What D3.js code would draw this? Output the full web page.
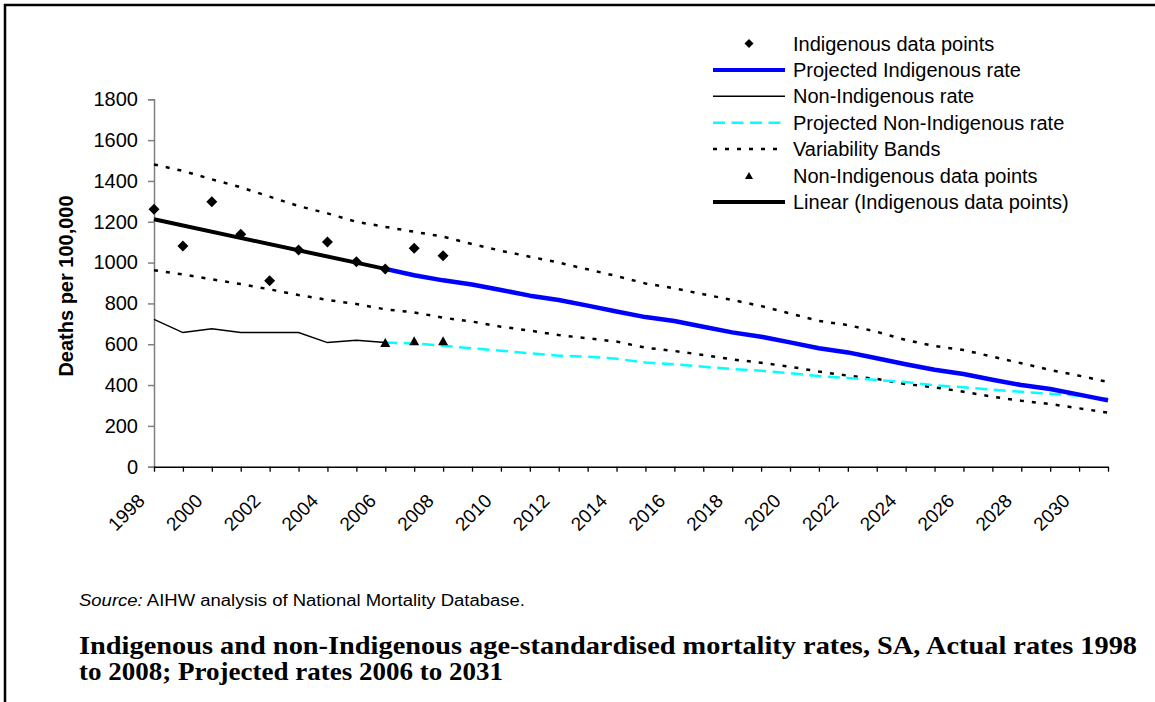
<!DOCTYPE html>
<html>
<head>
<meta charset="utf-8">
<script src="https://cdn.jsdelivr.net/npm/d3@7"></script>
<style>
  html, body { margin: 0; padding: 0; background: #fff; }
  svg { display: block; }
</style>
</head>
<body>
<svg id="chart" width="1155" height="702"></svg>
<script>
// ---- Data ----
const years = [1998,1999,2000,2001,2002,2003,2004,2005,2006,2007,2008,2009,2010,2011,2012,2013,2014,2015,2016,2017,2018,2019,2020,2021,2022,2023,2024,2025,2026,2027,2028,2029,2030,2031];
const xTickLabels = [1998,2000,2002,2004,2006,2008,2010,2012,2014,2016,2018,2020,2022,2024,2026,2028,2030];
const yTicks = [0,200,400,600,800,1000,1200,1400,1600,1800];

const indigenousYears = [1998,1999,2000,2001,2002,2003,2004,2005,2006,2007,2008];
const indigenousPoints = [1261,1081,1298,1139,911,1062,1101,1004,969,1070,1034];

const trendYears = [1998,2006];
const trendValues = [1212,969];

const nonIndYears = [1998,1999,2000,2001,2002,2003,2004,2005,2006];
const nonIndRate = [722,657,676,657,657,657,608,619,608];

const nonIndPointYears = [2006,2007,2008];
const nonIndPoints = [608,617,617];

const projYears = [2006,2007,2008,2009,2010,2011,2012,2013,2014,2015,2016,2017,2018,2019,2020,2021,2022,2023,2024,2025,2026,2027,2028,2029,2030,2031];
const projIndigenous = [969,938,913,893,866,838,817,789,760,733,714,686,658,637,609,580,560,531,502,475,454,426,400,381,353,325];
const projNonInd = [608,604,593,580,568,556,544,539,529,510,502,490,479,470,458,444,435,425,415,399,389,377,367,358,348,333];

const upperBand = [1481,1449,1408,1369,1323,1277,1241,1200,1175,1151,1127,1091,1058,1029,1000,967,934,898,874,845,817,787,751,714,694,661,621,591,572,539,507,474,446,415];
const lowerBand = [963,942,918,895,869,841,817,797,771,756,730,711,686,667,645,629,613,583,567,547,526,509,490,466,446,430,405,389,367,343,323,307,286,265];

const legendLabels = ["Indigenous data points","Projected Indigenous rate","Non-Indigenous rate","Projected Non-Indigenous rate","Variability Bands","Non-Indigenous data points","Linear (Indigenous data points)"];

const yTitle = "Deaths per 100,000";
const sourceLabel = "Source:";
const sourceText = " AIHW analysis of National Mortality Database.";
const captionLines = ["Indigenous and non-Indigenous age-standardised mortality rates, SA, Actual rates 1998","to 2008; Projected rates 2006 to 2031"];

// ---- Drawing ----
const svg = d3.select("#chart");
const FONT = "'Liberation Sans', Arial, sans-serif";
svg.append("rect").attr("width",1155).attr("height",702).attr("fill","#fff");

// frame
svg.append("line").attr("x1",4).attr("x2",1155).attr("y1",5).attr("y2",5).attr("stroke","#000").attr("stroke-width",2.5);
svg.append("line").attr("x1",5).attr("x2",5).attr("y1",4).attr("y2",702).attr("stroke","#000").attr("stroke-width",2.5);

const x = d3.scalePoint().domain(years).range([154,1108]);
const y = d3.scaleLinear().domain([0,1800]).range([466.7,99.3]);

// y axis
const yAxis = svg.append("g").attr("transform","translate(154,0)")
  .call(d3.axisLeft(y).tickValues(yTicks).tickSize(6).tickPadding(10).tickFormat(d3.format("d")));
yAxis.select(".domain").attr("stroke","#808080").attr("stroke-width",1.5);
yAxis.selectAll(".tick line").attr("stroke","#808080").attr("stroke-width",1.5);
yAxis.selectAll(".tick text").attr("font-family",FONT).attr("font-size",20).attr("fill","#000");

// x axis
const xAxis = svg.append("g").attr("transform","translate(0,466.7)")
  .call(d3.axisBottom(x).tickSize(5).tickSizeOuter(0).tickFormat(""));
xAxis.select(".domain").attr("stroke","#000").attr("stroke-width",1.5);
xAxis.selectAll(".tick line").attr("stroke","#000").attr("stroke-width",1.3);

svg.append("g").selectAll("text").data(xTickLabels).join("text")
  .attr("transform", d => `translate(${x(d)-8},${502}) rotate(-45)`)
  .attr("text-anchor","end")
  .attr("font-family",FONT).attr("font-size",19).attr("fill","#000")
  .text(d => d);

// y title
svg.append("text")
  .attr("transform","translate(73,286) rotate(-90)")
  .attr("text-anchor","middle")
  .attr("font-family",FONT).attr("font-size",20).attr("font-weight","bold")
  .text(yTitle);

const line = d3.line().x(d => x(d[0])).y(d => y(d[1]));
const zip = (a,b) => a.map((v,i) => [v,b[i]]);

// variability bands
[upperBand, lowerBand].forEach(b => {
  svg.append("path").attr("d", line(zip(years,b)))
    .attr("fill","none").attr("stroke","#000").attr("stroke-width",2.5).attr("stroke-dasharray","4,8");
});
// non-indigenous rate
svg.append("path").attr("d", line(zip(nonIndYears,nonIndRate)))
  .attr("fill","none").attr("stroke","#000").attr("stroke-width",1.5);
// projected non-indigenous
svg.append("path").attr("d", line(zip(projYears,projNonInd)))
  .attr("fill","none").attr("stroke","#00ffff").attr("stroke-width",2.5).attr("stroke-dasharray","12,6.5");
// projected indigenous
svg.append("path").attr("d", line(zip(projYears,projIndigenous)))
  .attr("fill","none").attr("stroke","#0000ff").attr("stroke-width",4.5).attr("stroke-linejoin","round");
// linear trend
svg.append("path").attr("d", line(zip(trendYears,trendValues)))
  .attr("fill","none").attr("stroke","#000").attr("stroke-width",4);

const diamond = (cx,cy,r) => `M${cx},${cy-r}L${cx+r},${cy}L${cx},${cy+r}L${cx-r},${cy}Z`;
const triangle = (cx,cy,w,h) => `M${cx},${cy-h/2}L${cx+w/2},${cy+h/2}L${cx-w/2},${cy+h/2}Z`;

svg.append("g").selectAll("path").data(zip(indigenousYears,indigenousPoints)).join("path")
  .attr("d", d => diamond(x(d[0]), y(d[1]), 5.5)).attr("fill","#000");
svg.append("g").selectAll("path").data(zip(nonIndPointYears,nonIndPoints)).join("path")
  .attr("d", d => triangle(x(d[0]), y(d[1]), 10, 9)).attr("fill","#000");

// legend
const lg = svg.append("g");
const rowY = i => 43.5 + i*26.4;
const lx1 = 713, lx2 = 785, mx = 749;
legendLabels.forEach((lab,i) => {
  const yy = rowY(i);
  if (i === 0) lg.append("path").attr("d", diamond(mx,yy,4.5)).attr("fill","#000");
  if (i === 1) lg.append("line").attr("x1",lx1).attr("x2",lx2).attr("y1",yy).attr("y2",yy).attr("stroke","#0000ff").attr("stroke-width",4);
  if (i === 2) lg.append("line").attr("x1",lx1).attr("x2",lx2).attr("y1",yy).attr("y2",yy).attr("stroke","#000").attr("stroke-width",1.5);
  if (i === 3) lg.append("line").attr("x1",lx1).attr("x2",lx2).attr("y1",yy).attr("y2",yy).attr("stroke","#00ffff").attr("stroke-width",2.5).attr("stroke-dasharray","12,6.5");
  if (i === 4) lg.append("line").attr("x1",lx1).attr("x2",lx2).attr("y1",yy).attr("y2",yy).attr("stroke","#000").attr("stroke-width",2.5).attr("stroke-dasharray","4,8");
  if (i === 5) lg.append("path").attr("d", triangle(mx,yy,8,7)).attr("fill","#000");
  if (i === 6) lg.append("line").attr("x1",lx1).attr("x2",lx2).attr("y1",yy).attr("y2",yy).attr("stroke","#000").attr("stroke-width",4);
  lg.append("text").attr("x",793).attr("y",yy).attr("dy","0.35em")
    .attr("font-family",FONT).attr("font-size",20).attr("fill","#000").text(lab);
});

// source
const src = svg.append("text").attr("x",79).attr("y",606)
  .attr("font-family",FONT).attr("font-size",16).attr("fill","#000")
  .attr("textLength",446).attr("lengthAdjust","spacingAndGlyphs");
src.append("tspan").attr("font-style","italic").text(sourceLabel);
src.append("tspan").text(sourceText);

// caption
const capW = [1058, 424];
captionLines.forEach((t,i) => {
  svg.append("text").attr("x",79).attr("y",654 + i*26)
    .attr("font-family","'Liberation Serif', serif").attr("font-weight","bold").attr("font-size",24.5)
    .attr("textLength",capW[i]).attr("lengthAdjust","spacingAndGlyphs")
    .attr("fill","#000").text(t);
});
</script>
</body>
</html>
